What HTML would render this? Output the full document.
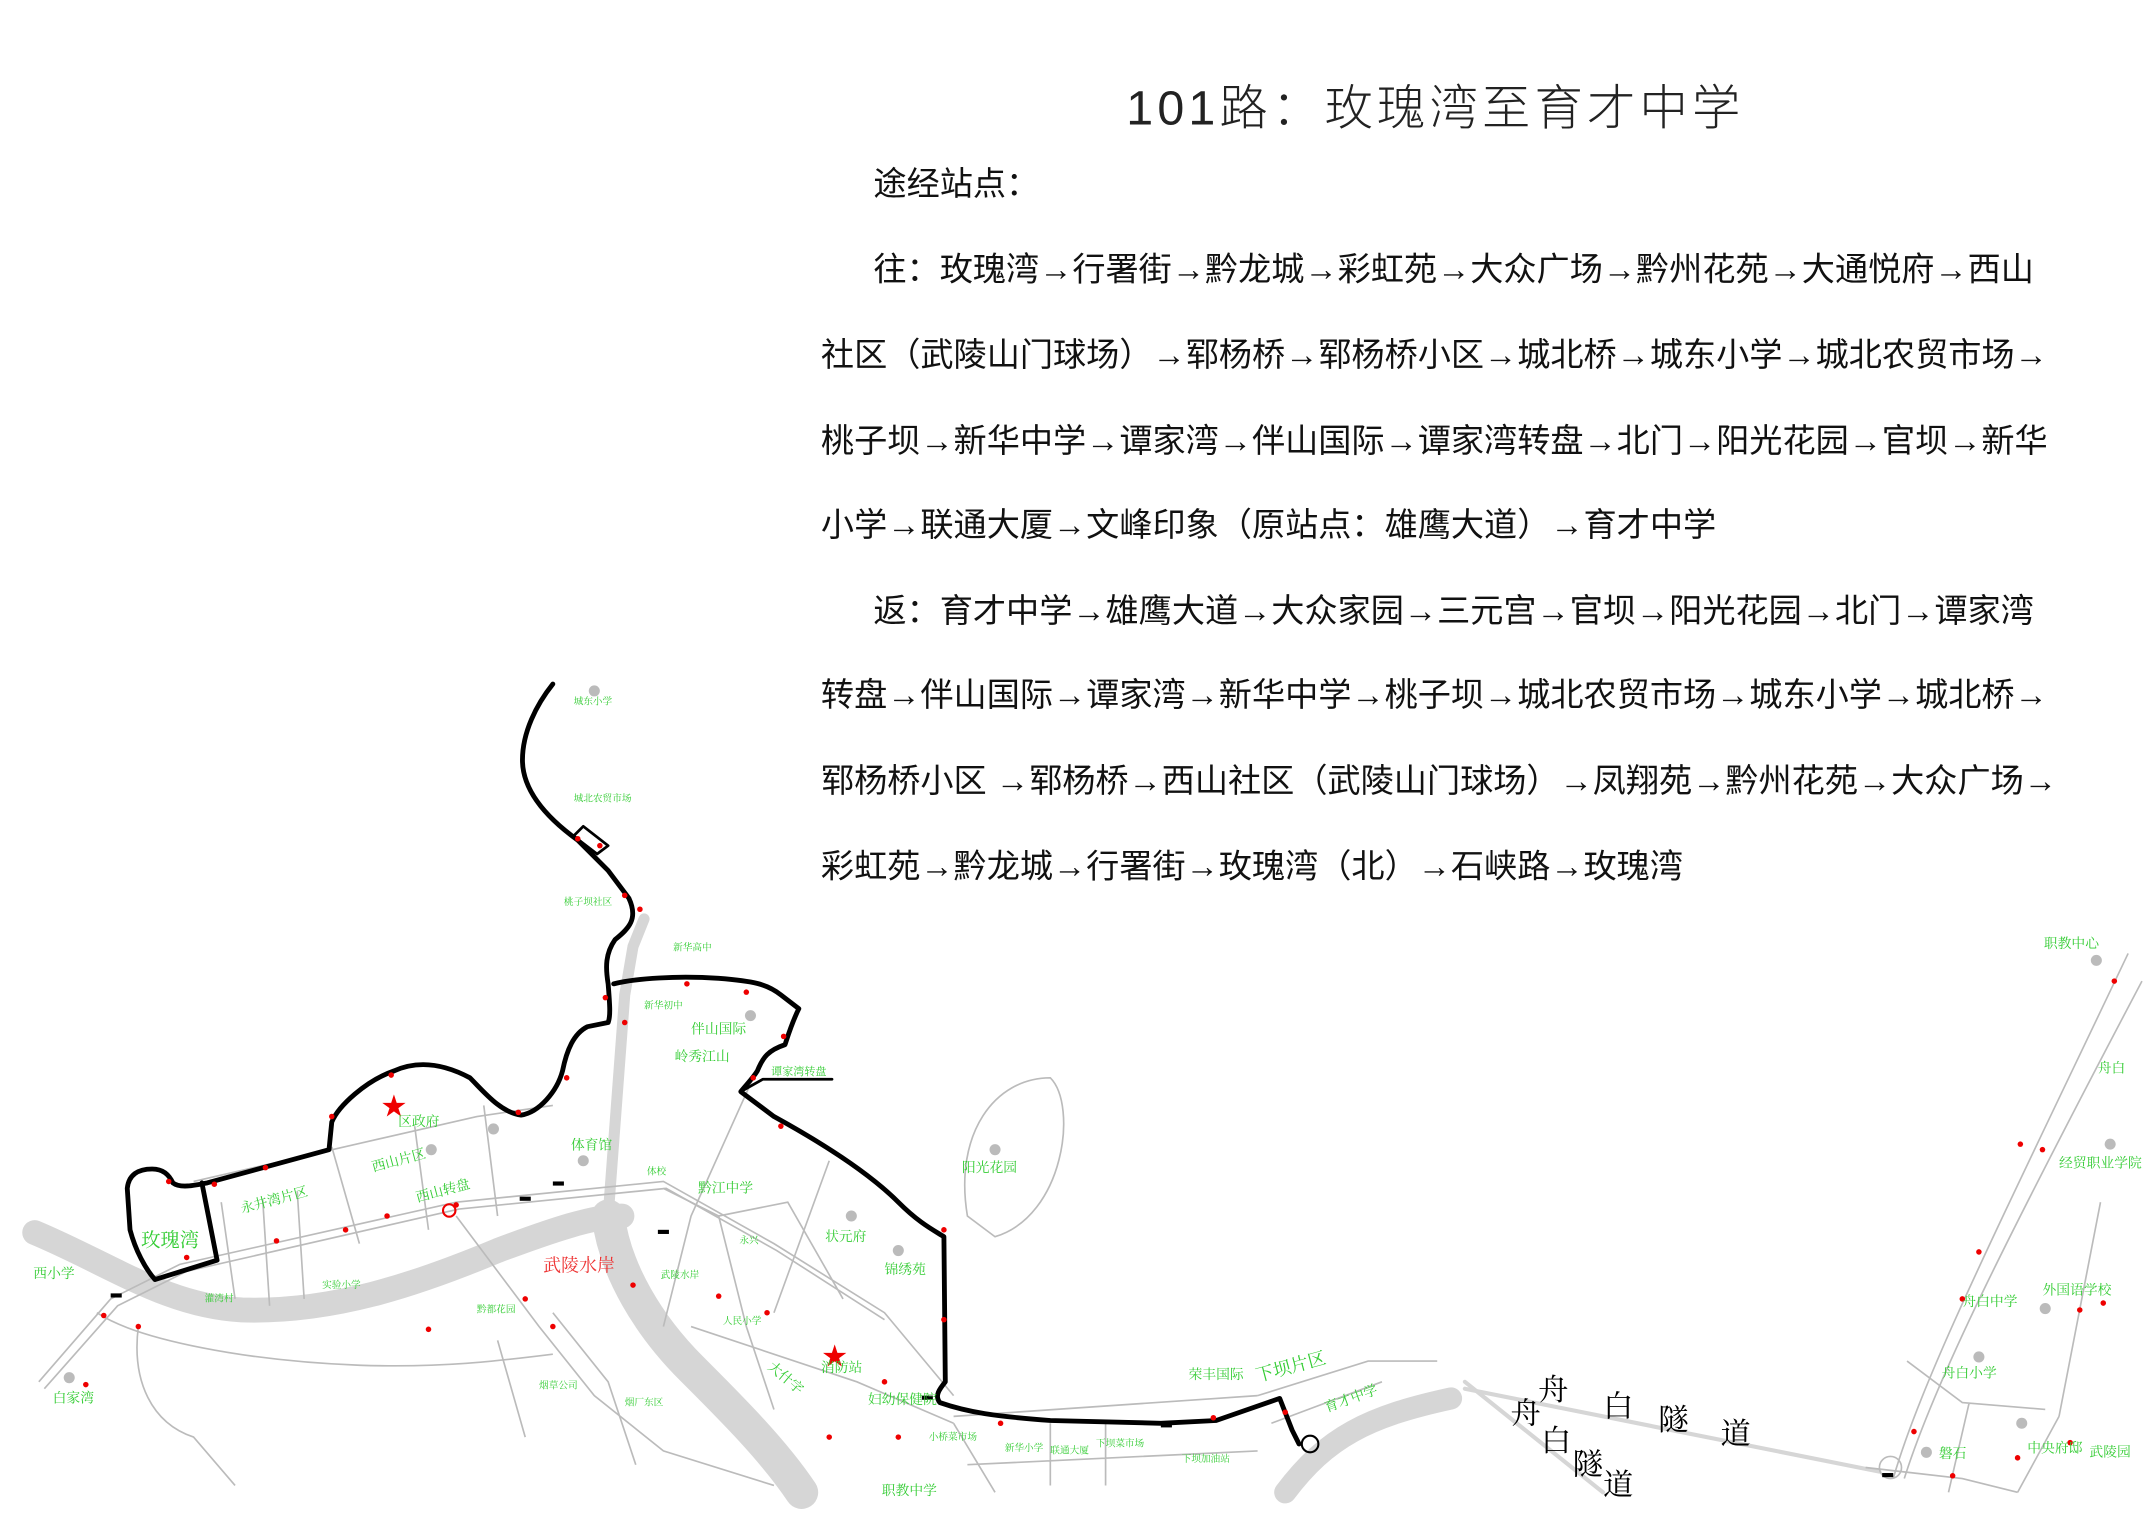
<!DOCTYPE html>
<html><head><meta charset="utf-8"><style>
html,body{margin:0;padding:0;background:#fff;}
svg{display:block;}
text{font-family:"Liberation Serif","Noto Serif CJK SC","Noto Sans CJK SC",serif;}
.t{font-family:"Liberation Sans","Noto Sans CJK SC",sans-serif;font-size:24px;fill:#111;}
.g{fill:#3c3;font-size:10px;}
.gs{fill:#3c3;font-size:7px;}
.r{fill:#e00;}
</style></head><body>
<svg width="2149" height="1520" viewBox="0 0 1555 1100" xmlns="http://www.w3.org/2000/svg">
<rect width="1555" height="1100" fill="#fff"/>
<text x="815" y="90" style="font-family:'Liberation Sans','Noto Sans CJK SC',sans-serif;font-size:35px;font-weight:300;fill:#222;letter-spacing:3px">101路：玫瑰湾至育才中学</text>
<text class="t" x="632" y="141">途经站点：</text>
<text class="t" x="632" y="203">往：玫瑰湾→行署街→黔龙城→彩虹苑→大众广场→黔州花苑→大通悦府→西山</text>
<text class="t" x="594" y="265">社区（武陵山门球场）→郓杨桥→郓杨桥小区→城北桥→城东小学→城北农贸市场→</text>
<text class="t" x="594" y="327">桃子坝→新华中学→谭家湾→伴山国际→谭家湾转盘→北门→阳光花园→官坝→新华</text>
<text class="t" x="594" y="388">小学→联通大厦→文峰印象（原站点：雄鹰大道）→育才中学</text>
<text class="t" x="632" y="450">返：育才中学→雄鹰大道→大众家园→三元宫→官坝→阳光花园→北门→谭家湾</text>
<text class="t" x="594" y="511">转盘→伴山国际→谭家湾→新华中学→桃子坝→城北农贸市场→城东小学→城北桥→</text>
<text class="t" x="594" y="573">郓杨桥小区 →郓杨桥→西山社区（武陵山门球场）→凤翔苑→黔州花苑→大众广场→</text>
<text class="t" x="594" y="635">彩虹苑→黔龙城→行署街→玫瑰湾（北）→石峡路→玫瑰湾</text>

<g fill="none" stroke="#d6d6d6" stroke-linecap="round">
<path d="M25,892 C80,915 120,945 175,948 C240,950 300,930 360,905 C400,890 430,880 450,880" stroke-width="18"/>
<path d="M440,880 C445,920 470,960 500,990 C530,1020 560,1050 580,1080" stroke-width="24"/>
<path d="M440,880 L452,720 L458,685 L466,665" stroke-width="8"/>
<path d="M930,1080 C960,1040 990,1025 1050,1012" stroke-width="16"/>
<path d="M1060,1005 L1360,1065" stroke-width="3"/>
<path d="M1060,1000 L1160,1080" stroke-width="3"/>
</g>
<g fill="none" stroke="#bbb" stroke-width="1.2">
<path d="M28,1000 L80,940 L130,915 L330,870 L480,855 L560,900 L640,950 L690,1010"/>
<path d="M32,1005 L85,945 L135,920 L332,875 L482,860 L562,905 L640,955"/>
<path d="M70,950 C100,970 180,985 260,988 C320,990 360,985 400,980"/>
<path d="M100,960 C95,1000 110,1030 140,1040 L170,1075"/>
<path d="M140,855 L345,808 L400,800"/>
<path d="M240,830 L260,900 M300,815 L310,890 M350,800 L360,880 M160,870 L170,940 M190,868 L195,945 M215,862 L220,940"/>
<path d="M480,860 L520,880 L570,870 L610,940 M520,880 L540,960 L560,1020"/>
<path d="M545,780 L500,880 L480,960 M600,840 L560,950 M500,960 L620,1000 L690,1030"/>
<path d="M330,880 L390,960 L430,1010 L480,1050 L560,1075"/>
<path d="M400,950 L440,1000 L460,1060 M360,970 L380,1040"/>
<path d="M690,1030 L720,1080 M690,1025 L910,1010 M700,1060 L910,1050 M760,1030 L760,1075 M800,1028 L800,1075"/>
<path d="M910,1010 L990,985 L1040,985 M920,1030 L1000,1000"/>
<path d="M700,880 C690,820 720,780 760,780 C780,800 770,880 720,895 Z"/>
<path d="M1370,1070 C1390,1000 1440,900 1540,690 M1378,1070 C1400,1000 1450,900 1550,710"/>
<path d="M1380,985 L1420,1015 L1480,1020 M1425,1015 L1410,1080 M1490,1025 L1460,1080 M1490,1025 L1520,870"/>
<path d="M1350,1062 L1420,1070 L1460,1080"/>
<circle cx="1368" cy="1062" r="8"/>
</g>
<g fill="none" stroke="#000" stroke-width="3.5" stroke-linejoin="round" stroke-linecap="round">
<path d="M400,495 C388,510 378,530 378,550 C378,575 400,595 418,608 L440,630 L455,650 C462,665 455,672 445,680 C438,690 438,700 440,712 C441,725 442,735 440,740 L425,743 C415,748 410,760 407,775 C403,790 390,805 377,807 C362,805 350,790 340,780 C325,772 305,766 285,775 C265,782 245,800 240,812 L238,832 L150,856 C140,858 130,860 125,856 C122,850 118,846 110,846 C100,846 93,850 92,860 L94,890 C98,905 105,918 112,926 L157,912 L146,856"/>
<path d="M444,712 C460,708 490,706 520,708 C545,710 555,712 565,720 L578,730 C573,740 570,750 568,756 C556,760 552,765 548,775 C545,780 540,785 536,790 L560,808 C600,830 630,850 650,870 C665,885 675,890 683,895 L684,1000 C680,1005 676,1010 680,1015 C700,1022 720,1025 760,1028 L840,1030 L880,1028 L926,1012 L935,1035 L940,1045"/>
<path d="M536,790 L552,781 L602,781" stroke-width="2"/>
<path d="M415,605 L422,598 L440,612 L432,618 Z" stroke-width="2"/>
</g>
<circle cx="948" cy="1045" r="6" fill="none" stroke="#000" stroke-width="1.5"/>
<circle cx="325" cy="876" r="4.5" fill="none" stroke="#e00" stroke-width="1.5"/>
<text x="276" y="807" class="r" style="font-size:18px">★</text>
<text x="595" y="988" class="r" style="font-size:18px">★</text>
<g fill="#e00">
<circle cx="418" cy="607" r="2"/><circle cx="434" cy="612" r="2"/><circle cx="452" cy="648" r="2"/><circle cx="463" cy="658" r="2"/>
<circle cx="438" cy="722" r="2"/><circle cx="452" cy="740" r="2"/><circle cx="497" cy="712" r="2"/><circle cx="540" cy="718" r="2"/>
<circle cx="567" cy="750" r="2"/><circle cx="545" cy="780" r="2"/><circle cx="565" cy="815" r="2"/><circle cx="683" cy="890" r="2"/>
<circle cx="683" cy="955" r="2"/><circle cx="724" cy="1030" r="2"/><circle cx="878" cy="1026" r="2"/><circle cx="930" cy="1022" r="2"/>
<circle cx="375" cy="805" r="2"/><circle cx="410" cy="780" r="2"/><circle cx="283" cy="778" r="2"/><circle cx="240" cy="808" r="2"/>
<circle cx="192" cy="845" r="2"/><circle cx="122" cy="855" r="2"/><circle cx="155" cy="857" r="2"/><circle cx="135" cy="910" r="2"/>
<circle cx="200" cy="898" r="2"/><circle cx="250" cy="890" r="2"/><circle cx="280" cy="880" r="2"/><circle cx="330" cy="872" r="2"/>
<circle cx="380" cy="940" r="2"/><circle cx="400" cy="960" r="2"/><circle cx="458" cy="930" r="2"/><circle cx="520" cy="938" r="2"/>
<circle cx="555" cy="950" r="2"/><circle cx="640" cy="1000" r="2"/><circle cx="600" cy="1040" r="2"/><circle cx="650" cy="1040" r="2"/>
<circle cx="75" cy="952" r="2"/><circle cx="100" cy="960" r="2"/><circle cx="310" cy="962" r="2"/><circle cx="62" cy="1002" r="2"/>
<circle cx="1530" cy="710" r="2"/><circle cx="1462" cy="828" r="2"/><circle cx="1478" cy="832" r="2"/><circle cx="1432" cy="906" r="2"/>
<circle cx="1420" cy="940" r="2"/><circle cx="1505" cy="948" r="2"/><circle cx="1522" cy="943" r="2"/><circle cx="1385" cy="1036" r="2"/>
<circle cx="1498" cy="1044" r="2"/><circle cx="1460" cy="1055" r="2"/><circle cx="1413" cy="1068" r="2"/>
</g>
<g fill="#000"><rect x="80" y="936" width="8" height="3"/><rect x="376" y="866" width="8" height="3"/><rect x="400" y="855" width="8" height="3"/><rect x="476" y="890" width="8" height="3"/><rect x="667" y="1010" width="8" height="3"/><rect x="840" y="1030" width="8" height="3"/><rect x="1362" y="1066" width="8" height="3"/></g>
<g class="g">
<text x="102" y="902" style="font-size:14px">玫瑰湾</text>
<text x="393" y="920" style="font-size:13px;fill:#e33">武陵水岸</text>
<text x="175" y="878" transform="rotate(-15 175 878)">永井湾片区</text>
<text x="270" y="848" transform="rotate(-15 270 848)">西山片区</text>
<text x="288" y="815">区政府</text>
<text x="302" y="870" transform="rotate(-15 302 870)">西山转盘</text>
<text x="413" y="832">体育馆</text>
<text x="500" y="748">伴山国际</text>
<text x="488" y="768">岭秀江山</text>
<text x="558" y="778" style="font-size:8px">谭家湾转盘</text>
<text x="505" y="863">黔江中学</text>
<text x="597" y="898">状元府</text>
<text x="640" y="922">锦绣苑</text>
<text x="696" y="848">阳光花园</text>
<text x="594" y="993">消防站</text>
<text x="628" y="1016">妇幼保健院</text>
<text x="555" y="990" transform="rotate(40 555 990)">大什字</text>
<text x="860" y="998">荣丰国际</text>
<text x="910" y="1000" style="font-size:13px" transform="rotate(-15 910 1000)">下坝片区</text>
<text x="960" y="1022" transform="rotate(-20 960 1022)">育才中学</text>
<text x="24" y="925">西小学</text>
<text x="38" y="1015">白家湾</text>
<text x="638" y="1082">职教中学</text>
<text x="1479" y="686">职教中心</text>
<text x="1518" y="776">舟白</text>
<text x="1490" y="845">经贸职业学院</text>
<text x="1420" y="945">舟白中学</text>
<text x="1478" y="937">外国语学校</text>
<text x="1405" y="997">舟白小学</text>
<text x="1403" y="1055">磐石</text>
<text x="1467" y="1051">中央府邸</text>
<text x="1512" y="1054">武陵园</text>
</g>
<g class="gs">
<text x="415" y="510">城东小学</text><text x="415" y="580">城北农贸市场</text><text x="408" y="655">桃子坝社区</text>
<text x="487" y="688">新华高中</text><text x="466" y="730">新华初中</text><text x="468" y="850">体校</text><text x="535" y="900">永兴</text>
<text x="148" y="942">灌湾村</text><text x="233" y="932">实验小学</text><text x="478" y="925">武陵水岸</text><text x="345" y="950">黔都花园</text>
<text x="523" y="958">人民小学</text><text x="672" y="1042">小桥菜市场</text><text x="727" y="1050">新华小学</text><text x="760" y="1052">联通大厦</text>
<text x="793" y="1047">下坝菜市场</text><text x="855" y="1058">下坝加油站</text><text x="390" y="1005">烟草公司</text><text x="452" y="1017">烟厂东区</text>
</g>
<g style="font-family:'Liberation Serif','Noto Serif CJK SC',serif;font-size:22px;fill:#000">
<text x="1113" y="1013">舟</text><text x="1160" y="1025">白</text><text x="1200" y="1035">隧</text><text x="1245" y="1045">道</text>
<text x="1093" y="1030">舟</text><text x="1115" y="1050">白</text><text x="1138" y="1067">隧</text><text x="1160" y="1082">道</text>
</g>
<g fill="#bbb">
<circle cx="430" cy="500" r="4"/><circle cx="543" cy="735" r="4"/><circle cx="357" cy="817" r="4"/><circle cx="312" cy="832" r="4"/>
<circle cx="422" cy="840" r="4"/><circle cx="720" cy="832" r="4"/><circle cx="616" cy="880" r="4"/><circle cx="650" cy="905" r="4"/>
<circle cx="50" cy="997" r="4"/><circle cx="1517" cy="695" r="4"/><circle cx="1527" cy="828" r="4"/><circle cx="1432" cy="982" r="4"/>
<circle cx="1480" cy="947" r="4"/><circle cx="1463" cy="1030" r="4"/><circle cx="1394" cy="1051" r="4"/>
</g>
</svg>
</body></html>
